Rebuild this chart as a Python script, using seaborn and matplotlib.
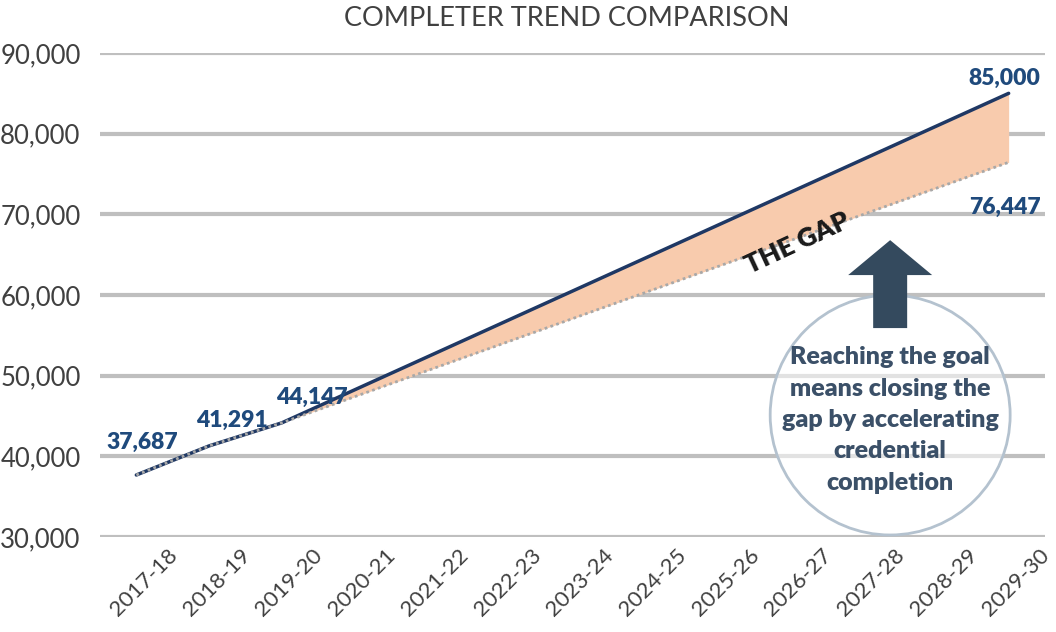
import numpy as np
import pandas as pd
import matplotlib
matplotlib.use("Agg")
import matplotlib.pyplot as plt
import matplotlib.patches as mpatches
import matplotlib.transforms as mtransforms
import seaborn as sns

# ---- data ----
years = ['2017-18', '2018-19', '2019-20', '2020-21', '2021-22', '2022-23', '2023-24',
         '2024-25', '2025-26', '2026-27', '2027-28', '2028-29', '2029-30']
actual_years = ['2017-18', '2018-19', '2019-20']
actual_values = [37687, 41291, 44147]
goal_years = ['2019-20', '2029-30']
goal_values = [44147, 85000]
projected_years = ['2019-20', '2029-30']
projected_values = [44147, 76447]
y_ticks = [30000, 40000, 50000, 60000, 70000, 80000, 90000]

title = 'COMPLETER TREND COMPARISON'
gap_label = 'THE GAP'
note = 'Reaching the goal\nmeans closing the\ngap by accelerating\ncredential\ncompletion'

# ---- style ----
sns.set_theme(style="white")
plt.rcParams['font.family'] = ['Lato', 'DejaVu Sans']

NAVY = '#1F3864'
LABEL_BLUE = '#1F4A7C'
PEACH = '#F8CBAD'
GRID = '#BFBFBF'
SLATE = '#344A5E'
CIRCLE_TEXT = '#3B5068'

idx = {y: i for i, y in enumerate(years)}

goal_df = pd.DataFrame({
    'x': [idx[y] for y in actual_years + goal_years[1:]],
    'value': actual_values + goal_values[1:],
})
proj_df = pd.DataFrame({
    'x': [idx[y] for y in actual_years + projected_years[1:]],
    'value': actual_values + projected_values[1:],
})

fig = plt.figure(figsize=(10.56, 6.32), dpi=100)
ax = fig.add_axes([100/1056, (632-537)/632, (1045-100)/1056, (537-53)/632])

# fill gap
gx = [idx[y] for y in goal_years]
ax.fill_between(gx, projected_values, goal_values, color=PEACH, lw=0, zorder=2)

sns.lineplot(data=goal_df, x='x', y='value', ax=ax, color=NAVY, lw=2.5, zorder=4)
sns.lineplot(data=proj_df, x='x', y='value', ax=ax, color='#A8A8A8', lw=2.0,
             linestyle=(0, (1, 1.2)), zorder=5)

ax.set_xlim(-0.5, len(years) - 0.5)
ax.set_ylim(y_ticks[0], y_ticks[-1])
ax.set_yticks(y_ticks)
ax.set_yticklabels([f'{v:,}' for v in y_ticks])
ax.set_xticks(range(len(years)))
ax.set_xticklabels([])
ax.tick_params(axis='y', labelsize=18.5, labelcolor='#404040', pad=14, length=0)
ax.tick_params(axis='x', length=0)
ax.set_xlabel('')
ax.set_ylabel('')
for s in ax.spines.values():
    s.set_visible(False)
for v in y_ticks:
    ax.axhline(v, color=GRID, lw=3, zorder=1)

# rotated category labels
offset = mtransforms.ScaledTranslation(0.45, -0.08, fig.dpi_scale_trans)
for i, y in enumerate(years):
    ax.text(i, 0, y, transform=ax.get_xaxis_transform() + offset, rotation=45,
            ha='right', va='top', fontsize=16, color='#404040')

# value labels
lab_kw = dict(fontsize=16.5, fontweight=800, color=LABEL_BLUE, ha='center', va='center',
              textcoords='offset pixels', zorder=6)
offsets = [(6, 33), (23, 26), (30, 25)]
for y, v, off in zip(actual_years, actual_values, offsets):
    ax.annotate(f'{v:,}', (idx[y], v), xytext=off, **lab_kw)
ax.annotate(f'{goal_values[-1]:,}', (idx[goal_years[-1]], goal_values[-1]), xytext=(-4, 15), **lab_kw)
ax.annotate(f'{projected_values[-1]:,}', (idx[projected_years[-1]], projected_values[-1]),
            xytext=(-4, -45), **lab_kw)

# THE GAP
ax.text(9.1, 66500, gap_label, fontsize=19, fontweight=800, color='#1A1A1A',
        rotation=25, rotation_mode='anchor', ha='center', va='center', zorder=6)

# circle
xs = 72.7  # px per category
ys = 80.7 / 10000  # px per value
cx, cy, r = 10.37, 45120, 120
circ = mpatches.Ellipse((cx, cy), 2 * r / xs, 2 * r / ys, facecolor='white', alpha=0.55,
                        edgecolor='none', zorder=3)
ax.add_patch(circ)
circ2 = mpatches.Ellipse((cx, cy), 2 * r / xs, 2 * r / ys, facecolor='none',
                         edgecolor='#B4C2CF', lw=2, zorder=6)
ax.add_patch(circ2)
ax.text(cx, 44500, note, fontsize=18, fontweight=800, color=CIRCLE_TEXT,
        ha='center', va='center', linespacing=1.52, zorder=7)

# arrow
ax_ = cx
tip = 66800
head_base = 62470
shaft_bottom = 55900
hw = 42 / xs
sw = 17 / xs
arrow = mpatches.Polygon([(ax_ - sw, shaft_bottom), (ax_ - sw, head_base), (ax_ - hw, head_base),
                          (ax_, tip), (ax_ + hw, head_base), (ax_ + sw, head_base),
                          (ax_ + sw, shaft_bottom)], closed=True, facecolor=SLATE,
                         edgecolor='none', zorder=7)
ax.add_patch(arrow)

fig.text(567/1056, 1 - 19/632, title, fontsize=19.5, color='#404040', ha='center', va='center')

fig.savefig('out.png', dpi=100)
